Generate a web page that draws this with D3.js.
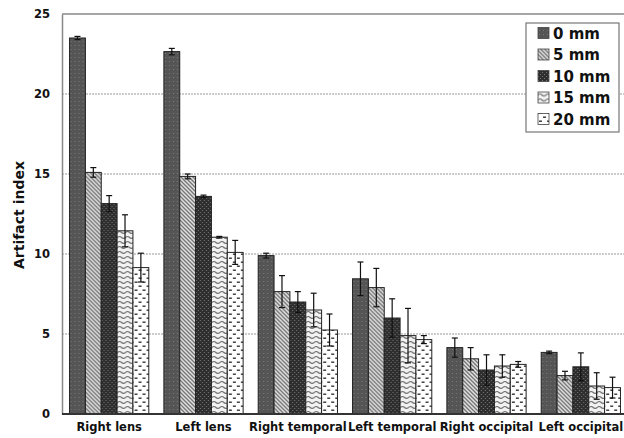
<!DOCTYPE html>
<html>
<head>
<meta charset="utf-8">
<script src="https://cdn.jsdelivr.net/npm/d3@7"></script>
<style>
  body { margin: 0; background: #fff; }
  text { font-family: "DejaVu Sans", Verdana, sans-serif; font-weight: bold; }
</style>
</head>
<body>
<script>
var width = 624, height = 438;
var margin = {top: 14, right: -4, bottom: 24, left: 62};

var regions = ["Right lens", "Left lens", "Right temporal", "Left temporal", "Right occipital", "Left occipital"];
var distances = ["0 mm", "5 mm", "10 mm", "15 mm", "20 mm"];

// mean artifact index per distance, one value per region
var mean0  = [23.5, 22.65, 9.9, 8.45, 4.15, 3.85];
var mean5  = [15.1, 14.85, 7.65, 7.9, 3.45, 2.4];
var mean10 = [13.15, 13.6, 7.0, 6.0, 2.75, 2.95];
var mean15 = [11.45, 11.05, 6.5, 4.9, 3.0, 1.75];
var mean20 = [9.15, 10.1, 5.25, 4.65, 3.1, 1.65];

// error (+/-) per distance
var err0  = [0.1, 0.2, 0.15, 1.05, 0.6, 0.08];
var err5  = [0.3, 0.15, 1.0, 1.2, 0.7, 0.27];
var err10 = [0.5, 0.08, 0.65, 1.2, 0.95, 0.87];
var err15 = [1.0, 0.05, 1.05, 1.7, 0.7, 0.83];
var err20 = [0.9, 0.75, 1.0, 0.25, 0.18, 0.65];

var yTicks = [0, 5, 10, 15, 20, 25];

var means = [mean0, mean5, mean10, mean15, mean20];
var errs = [err0, err5, err10, err15, err20];

var data = [];
regions.forEach(function(r, i) {
  distances.forEach(function(d, j) {
    data.push({region: r, dist: d, k: j, value: means[j][i], err: errs[j][i]});
  });
});

var svg = d3.select("body").append("svg")
            .attr("width", width)
            .attr("height", height);

var x0 = d3.scaleBand().domain(regions)
           .range([margin.left, width - margin.right])
           .paddingInner(0.16).paddingOuter(0.08);
var x1 = d3.scaleBand().domain(distances).range([0, x0.bandwidth()]);
var y = d3.scaleLinear().domain([0, 25]).range([height - margin.bottom, margin.top]);

// fill patterns
var defs = svg.append("defs");

var p0 = defs.append("pattern").attr("id", "p0").attr("patternUnits", "userSpaceOnUse")
             .attr("width", 4).attr("height", 4);
p0.append("rect").attr("width", 4).attr("height", 4).attr("fill", "#555");
p0.append("rect").attr("x", 1).attr("y", 1).attr("width", 1).attr("height", 1).attr("fill", "#7a7a7a");

var p1 = defs.append("pattern").attr("id", "p1").attr("patternUnits", "userSpaceOnUse")
             .attr("width", 4).attr("height", 4);
p1.append("rect").attr("width", 4).attr("height", 4).attr("fill", "#e6e6e6");
p1.append("path").attr("d", "M-1,-1L5,5M-1,3L1,5M3,-1L5,1")
  .attr("stroke", "#6e6e6e").attr("stroke-width", 1.3);

var p2 = defs.append("pattern").attr("id", "p2").attr("patternUnits", "userSpaceOnUse")
             .attr("width", 4).attr("height", 4);
p2.append("rect").attr("width", 4).attr("height", 4).attr("fill", "#2e2e2e");
p2.append("rect").attr("x", 0).attr("y", 0).attr("width", 1).attr("height", 1).attr("fill", "#777");
p2.append("rect").attr("x", 2).attr("y", 2).attr("width", 1).attr("height", 1).attr("fill", "#777");

var p3 = defs.append("pattern").attr("id", "p3").attr("patternUnits", "userSpaceOnUse")
             .attr("width", 8).attr("height", 5);
p3.append("rect").attr("width", 8).attr("height", 5).attr("fill", "#f2f2f2");
p3.append("path").attr("d", "M0,2.5Q2,0.5 4,2.5T8,2.5")
  .attr("fill", "none").attr("stroke", "#6a6a6a").attr("stroke-width", 1.1);

var p4 = defs.append("pattern").attr("id", "p4").attr("patternUnits", "userSpaceOnUse")
             .attr("width", 8).attr("height", 8);
p4.append("rect").attr("width", 8).attr("height", 8).attr("fill", "#fff");
p4.append("rect").attr("x", 1).attr("y", 1.5).attr("width", 3).attr("height", 1.4).attr("fill", "#333");
p4.append("rect").attr("x", 5).attr("y", 5.5).attr("width", 3).attr("height", 1.4).attr("fill", "#333");

var fills = ["url(#p0)", "url(#p1)", "url(#p2)", "url(#p3)", "url(#p4)"];

// gridlines
svg.append("g").selectAll("line")
   .data(yTicks.filter(function(t) { return t > 0 && t < 25; }))
   .enter().append("line")
   .attr("x1", margin.left).attr("x2", width)
   .attr("y1", function(d) { return y(d); }).attr("y2", function(d) { return y(d); })
   .attr("stroke", "#999").attr("stroke-width", 1)
   .style("stroke-dasharray", "2, 1");

// top frame line
svg.append("line")
   .attr("x1", margin.left).attr("x2", width)
   .attr("y1", y(25)).attr("y2", y(25))
   .attr("stroke", "#888").attr("stroke-width", 1.5);

// Y axis
var yAxis = svg.append("g")
   .attr("transform", "translate(" + margin.left + ",0)")
   .call(d3.axisLeft(y).tickValues(yTicks).tickSize(0).tickPadding(12));
yAxis.select(".domain").attr("stroke", "#888").attr("stroke-width", 1.5);
yAxis.selectAll("text").style("font-size", "11.5px").attr("fill", "#111");

// bars
var groups = svg.append("g").selectAll("g")
   .data(data).enter().append("g")
   .attr("transform", function(d) { return "translate(" + x0(d.region) + ",0)"; });

groups.append("rect")
   .attr("x", function(d) { return x1(d.dist); })
   .attr("width", x1.bandwidth())
   .attr("y", function(d) { return y(d.value); })
   .attr("height", function(d) { return y(0) - y(d.value); })
   .attr("fill", function(d) { return fills[d.k]; })
   .attr("stroke", "#222").attr("stroke-width", 1);

// error bars
var cx = function(d) { return x1(d.dist) + x1.bandwidth() / 2; };
groups.append("line")
   .attr("x1", cx).attr("x2", cx)
   .attr("y1", function(d) { return y(d.value + d.err); })
   .attr("y2", function(d) { return y(d.value - d.err); })
   .attr("stroke", "#111").attr("stroke-width", 1.2);
groups.append("line")
   .attr("x1", function(d) { return cx(d) - 3; }).attr("x2", function(d) { return cx(d) + 3; })
   .attr("y1", function(d) { return y(d.value + d.err); })
   .attr("y2", function(d) { return y(d.value + d.err); })
   .attr("stroke", "#111").attr("stroke-width", 1.2);
groups.append("line")
   .attr("x1", function(d) { return cx(d) - 3; }).attr("x2", function(d) { return cx(d) + 3; })
   .attr("y1", function(d) { return y(d.value - d.err); })
   .attr("y2", function(d) { return y(d.value - d.err); })
   .attr("stroke", "#111").attr("stroke-width", 1.2);

// X axis
var xAxis = svg.append("g")
   .attr("transform", "translate(0," + y(0) + ")")
   .call(d3.axisBottom(x0).tickSize(0).tickPadding(9));
xAxis.select(".domain").attr("stroke", "#333").attr("stroke-width", 2)
     .attr("d", "M" + margin.left + ",0H" + width);
xAxis.selectAll("text").style("font-size", "11.5px").attr("fill", "#111");

// Y label
svg.append("text")
   .attr("transform", "rotate(-90)")
   .attr("x", -215).attr("y", 24)
   .style("text-anchor", "middle")
   .style("font-size", "14px")
   .attr("fill", "#111")
   .text("Artifact index");

// legend
var legend = svg.append("g");
legend.append("rect")
   .attr("x", 526).attr("y", 23).attr("width", 93).attr("height", 109)
   .attr("fill", "#fff").attr("stroke", "#777").attr("stroke-width", 1.2);
var item = legend.selectAll(".item").data(distances).enter().append("g")
   .attr("transform", function(d, i) { return "translate(538," + (33 + i * 21.5) + ")"; });
item.append("rect")
   .attr("x", 0).attr("y", -5.5).attr("width", 11).attr("height", 11)
   .attr("fill", function(d, i) { return fills[i]; })
   .attr("stroke", "#444").attr("stroke-width", 0.8);
item.append("text")
   .attr("x", 15).attr("y", 5.5)
   .style("font-size", "15px")
   .attr("fill", "#111")
   .text(function(d) { return d; });
</script>
</body>
</html>
